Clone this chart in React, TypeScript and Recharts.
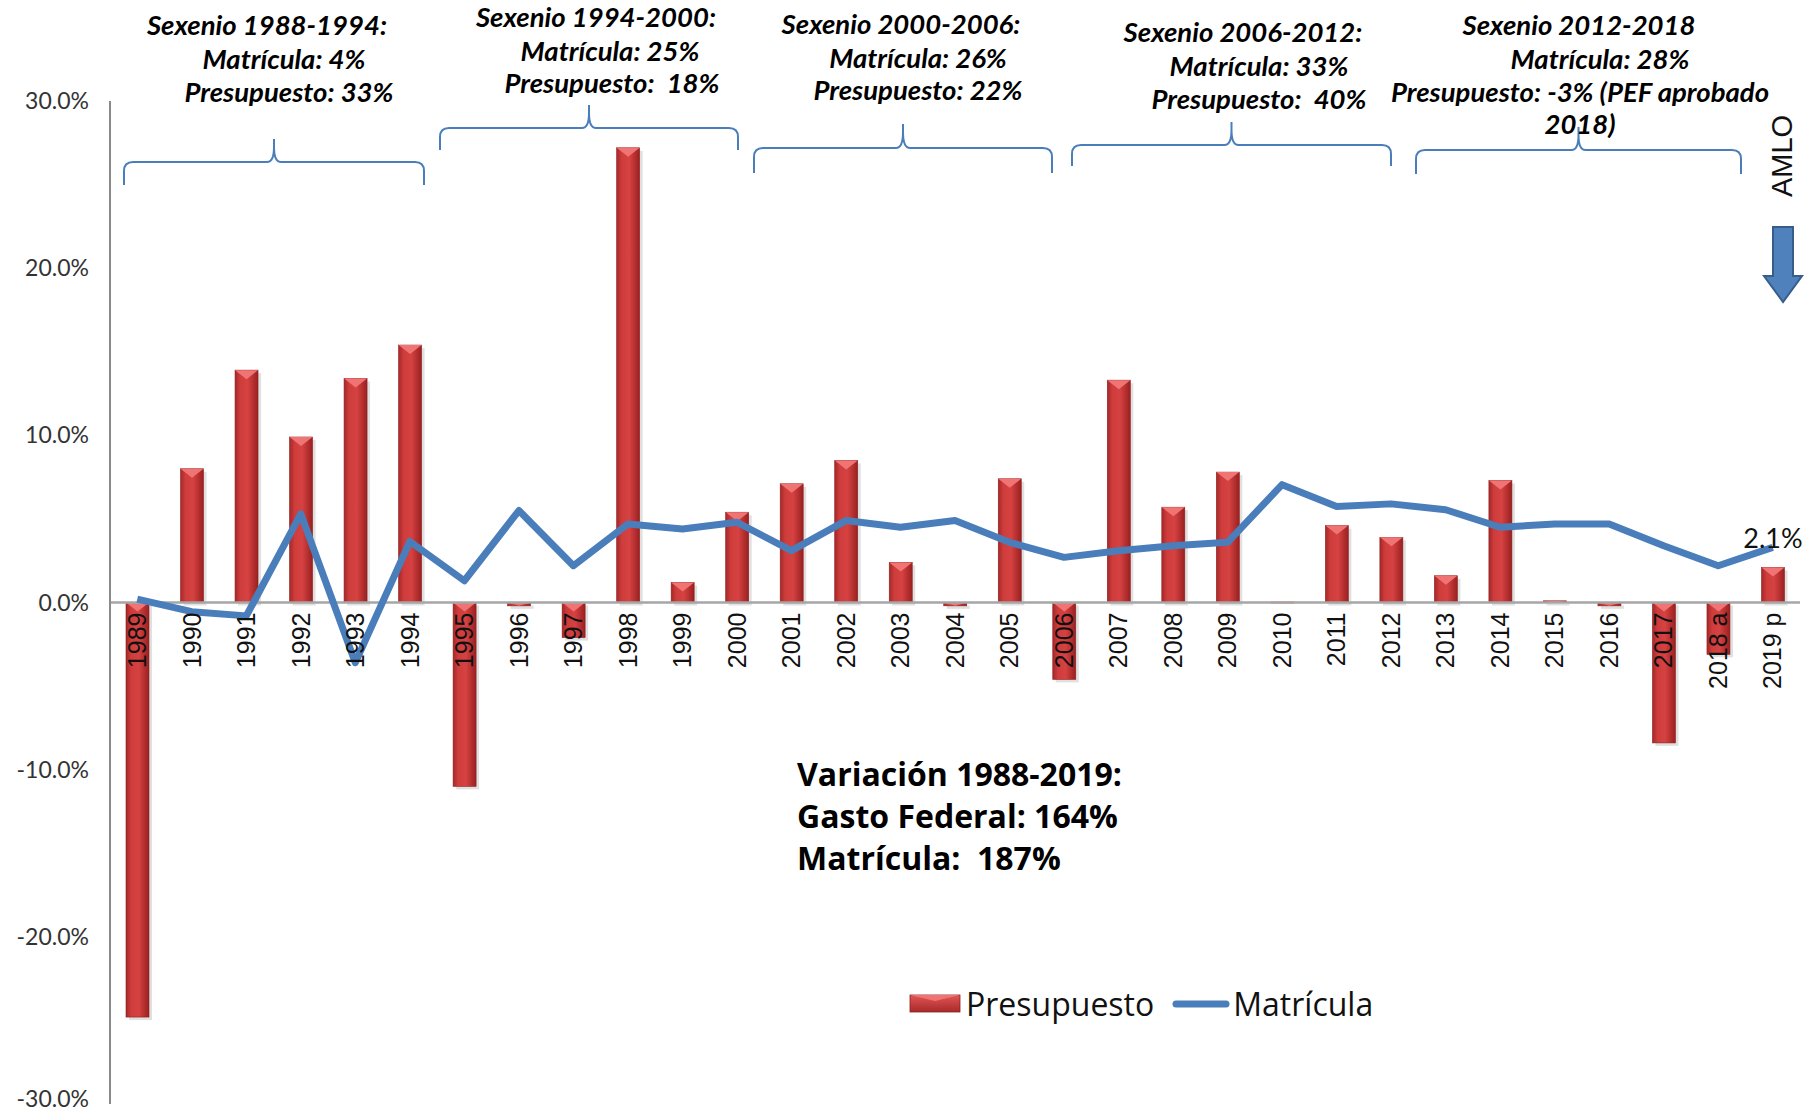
import React from 'react';
import {
  ComposedChart,
  Bar,
  Line,
  XAxis,
  YAxis,
  ReferenceLine,
  LabelList,
} from 'recharts';

const years = [
  '1989', '1990', '1991', '1992', '1993', '1994', '1995', '1996', '1997', '1998',
  '1999', '2000', '2001', '2002', '2003', '2004', '2005', '2006', '2007', '2008',
  '2009', '2010', '2011', '2012', '2013', '2014', '2015', '2016', '2017', '2018 a', '2019 p',
];

// % variation
const presupuesto = [
  -24.8, 8.0, 13.9, 9.9, 13.4, 15.4, -11.0, -0.2, -2.1, 27.2,
  1.2, 5.4, 7.1, 8.5, 2.4, -0.2, 7.4, -4.6, 13.3, 5.7,
  7.8, 0, 4.6, 3.9, 1.6, 7.3, 0.1, -0.2, -8.4, -3.1, 2.1,
];

const matricula = [
  0.2, -0.55, -0.8, 5.3, -3.6, 3.65, 1.3, 5.5, 2.2, 4.7,
  4.4, 4.8, 3.1, 4.9, 4.5, 4.9, 3.6, 2.7, 3.1, 3.4,
  3.6, 7.05, 5.75, 5.9, 5.55, 4.5, 4.7, 4.7, 3.4, 2.2, 3.3,
];

const yTicks = [-30, -20, -10, 0, 10, 20, 30];

const sexenios = [
  { lines: ['Sexenio 1988-1994:', 'Matrícula: 4%', 'Presupuesto: 33%'] },
  { lines: ['Sexenio 1994-2000:', 'Matrícula: 25%', 'Presupuesto:  18%'] },
  { lines: ['Sexenio 2000-2006:', 'Matrícula: 26%', 'Presupuesto: 22%'] },
  { lines: ['Sexenio 2006-2012:', 'Matrícula: 33%', 'Presupuesto:  40%'] },
  { lines: ['Sexenio 2012-2018', 'Matrícula: 28%', 'Presupuesto: -3% (PEF aprobado', '2018)'] },
];

const resumen = ['Variación 1988-2019:', 'Gasto Federal: 164%', 'Matrícula:  187%'];

const data = years.map((year, i) => ({
  year,
  presupuesto: presupuesto[i],
  matricula: matricula[i],
}));

const W = 1805;
const H = 1114;
const TOP = 101;
const BOTTOM = 0;
const X_AXIS_H = 10;
const Y_MIN = -30;
const Y_MAX = 30;
const ZERO_Y = TOP + ((H - TOP - BOTTOM - X_AXIS_H) * Y_MAX) / (Y_MAX - Y_MIN);

const BLUE = '#4A7EBB';

// layout of the annotation overlay (text boxes + braces drawn over the chart)
const textPos = [
  { x: [267, 284, 289], y: [25, 59, 92] },
  { x: [596, 610, 612], y: [17, 51, 83] },
  { x: [901, 918, 918], y: [24, 58, 90] },
  { x: [1243, 1259, 1259], y: [32, 66, 99] },
  { x: [1579, 1600, 1580, 1580], y: [25, 59, 92, 124] },
];
const braces = [
  { x1: 124, x2: 424, line: 162, tip: 185, peak: 139 },
  { x1: 440, x2: 738, line: 128, tip: 150, peak: 105 },
  { x1: 754, x2: 1052, line: 148, tip: 173, peak: 124 },
  { x1: 1072, x2: 1391, line: 145, tip: 166, peak: 122 },
  { x1: 1416, x2: 1741, line: 150, tip: 174, peak: 127 },
];

const bracePath = (b: { x1: number; x2: number; line: number; tip: number; peak: number }) => {
  const xc = (b.x1 + b.x2) / 2;
  const r = 9;
  return [
    `M ${b.x1} ${b.tip}`,
    `L ${b.x1} ${b.line + r}`,
    `Q ${b.x1} ${b.line} ${b.x1 + r} ${b.line}`,
    `L ${xc - 7} ${b.line}`,
    `Q ${xc} ${b.line} ${xc} ${b.peak + 8}`,
    `L ${xc} ${b.peak}`,
    `M ${xc} ${b.peak + 8}`,
    `Q ${xc} ${b.line} ${xc + 7} ${b.line}`,
    `L ${b.x2 - r} ${b.line}`,
    `Q ${b.x2} ${b.line} ${b.x2} ${b.line + r}`,
    `L ${b.x2} ${b.tip}`,
  ].join(' ');
};

const BevelBar = (props: any) => {
  const { x, y, width, height } = props;
  if (width == null || height == null) return null;
  const top = Math.min(y, y + height);
  const h = Math.abs(height);
  if (h < 0.5) {
    return <rect x={x} y={top - 1} width={width} height={2} fill="#E06060" />;
  }
  const tri = Math.min(9, h);
  return (
    <g>
      <rect x={x + 3} y={top + 3} width={width} height={h} fill="#000" opacity={0.12} />
      <rect x={x} y={top} width={width} height={h} fill="url(#barGrad)" stroke="#8E1E1E" strokeWidth={0.6} />
      <polygon
        points={`${x},${top} ${x + width},${top} ${x + width / 2},${top + tri}`}
        fill="#F07474"
      />
    </g>
  );
};

const PercentTick = (props: any) => {
  const { x, y, payload } = props;
  // lowest label sits on the picture's bottom edge, lift it a little
  const lift = payload.value === Y_MIN ? -5 : 0;
  return (
    <text
      x={x - 19}
      y={y + lift}
      dy="0.35em"
      textAnchor="end"
      fontFamily="Lato, sans-serif"
      fontSize={23}
      fill="#333"
    >
      {`${Number(payload.value).toFixed(1)}%`}
    </text>
  );
};

const YearTick = (props: any) => {
  const { x, payload } = props;
  const y0 = ZERO_Y + 10;
  return (
    <text
      x={x}
      y={y0}
      transform={`rotate(-90, ${x}, ${y0})`}
      textAnchor="end"
      dy="0.35em"
      fontFamily="'Liberation Sans', Arial, sans-serif"
      fontSize={25}
      fill="#111"
    >
      {payload.value}
    </text>
  );
};

const LastLabel = (props: any) => {
  const { x, y, width, value, index } = props;
  if (index !== years.length - 1) return null;
  return (
    <text
      x={x + width / 2}
      y={y - 19}
      textAnchor="middle"
      fontFamily="Lato, sans-serif"
      fontSize={27}
      fill="#111"
    >
      {`${Number(value).toFixed(1)}%`}
    </text>
  );
};

const LegendBox = () => (
  <div
    style={{
      position: 'absolute',
      left: 909,
      top: 982,
      display: 'flex',
      alignItems: 'center',
      fontFamily: "'Open Sans', sans-serif",
      fontSize: 32,
      color: '#111',
      whiteSpace: 'nowrap',
    }}
  >
    <svg width={52} height={20} style={{ marginRight: 5 }}>
      <defs>
        <linearGradient id="legendGrad" x1="0" y1="0" x2="0" y2="1">
          <stop offset="0%" stopColor="#E25555" />
          <stop offset="100%" stopColor="#A82A2A" />
        </linearGradient>
      </defs>
      <rect x={1} y={1} width={50} height={17} fill="url(#legendGrad)" stroke="#8E1E1E" strokeWidth={0.8} />
      <polygon points="1,1 51,1 26,7" fill="#F07474" />
    </svg>
    <span style={{ marginRight: 18 }}>Presupuesto</span>
    <svg width={58} height={20} style={{ marginRight: 3 }}>
      <line x1={4} y1={10} x2={54} y2={10} stroke={BLUE} strokeWidth={7} strokeLinecap="round" />
    </svg>
    <span>Matrícula</span>
  </div>
);

export default function App() {
  return (
    <div style={{ position: 'absolute', left: 0, top: 0, width: W, height: H, background: '#fff' }}>
      <ComposedChart
        width={W}
        height={H}
        data={data}
        margin={{ top: TOP, right: 5, bottom: BOTTOM, left: 0 }}
      >
        <defs>
          <linearGradient id="barGrad" x1="0" y1="0" x2="1" y2="0">
            <stop offset="0%" stopColor="#A52828" />
            <stop offset="22%" stopColor="#CF3C3C" />
            <stop offset="55%" stopColor="#D64242" />
            <stop offset="100%" stopColor="#9A2020" />
          </linearGradient>
        </defs>
        <YAxis
          domain={[Y_MIN, Y_MAX]}
          ticks={yTicks}
          interval={0}
          width={110}
          axisLine={{ stroke: '#8A8A8A', strokeWidth: 2 }}
          tickLine={false}
          tickSize={0}
          tick={<PercentTick />}
        />
        <ReferenceLine y={0} stroke="#A6A6A6" strokeWidth={2.5} />
        <Bar
          dataKey="presupuesto"
          name="Presupuesto"
          barSize={23}
          shape={<BevelBar />}
          isAnimationActive={false}
        >
          <LabelList dataKey="presupuesto" content={<LastLabel />} />
        </Bar>
        <XAxis
          dataKey="year"
          height={X_AXIS_H}
          axisLine={false}
          tickLine={false}
          interval={0}
          tick={<YearTick />}
        />
        <Line
          dataKey="matricula"
          name="Matrícula"
          stroke={BLUE}
          strokeWidth={7}
          dot={false}
          activeDot={false}
          strokeLinejoin="round"
          isAnimationActive={false}
        />
      </ComposedChart>

      <LegendBox />

      <svg
        width={W}
        height={H}
        style={{ position: 'absolute', left: 0, top: 0, pointerEvents: 'none' }}
      >
        {braces.map((b, i) => (
          <path key={i} d={bracePath(b)} fill="none" stroke={BLUE} strokeWidth={2} />
        ))}
        {sexenios.map((s, i) =>
          s.lines.map((line, j) => (
            <text
              key={`${i}-${j}`}
              x={textPos[i].x[j]}
              y={textPos[i].y[j]}
              dy="0.35em"
              textAnchor="middle"
              fontFamily="Lato, sans-serif"
              fontStyle="italic"
              fontWeight="bold"
              fontSize={27.5}
              fill="#000"
              style={{ whiteSpace: 'pre' }}
            >
              {line}
            </text>
          ))
        )}
        {resumen.map((line, j) => (
          <text
            key={j}
            x={797}
            y={775 + j * 42}
            dy="0.35em"
            fontFamily="'Open Sans', sans-serif"
            fontWeight="bold"
            fontSize={32}
            fill="#000"
            style={{ whiteSpace: 'pre' }}
          >
            {line}
          </text>
        ))}
        <text
          x={1782}
          y={156}
          transform="rotate(-90, 1782, 156)"
          textAnchor="middle"
          dy="0.35em"
          fontFamily="'Liberation Sans', Arial, sans-serif"
          fontSize={29}
          fill="#111"
        >
          AMLO
        </text>
        <polygon
          points="1773,227 1793,227 1793,276 1802,276 1783,302 1764,276 1773,276"
          fill="#4F81BD"
          stroke="#385D8A"
          strokeWidth={2}
        />
      </svg>
    </div>
  );
}
